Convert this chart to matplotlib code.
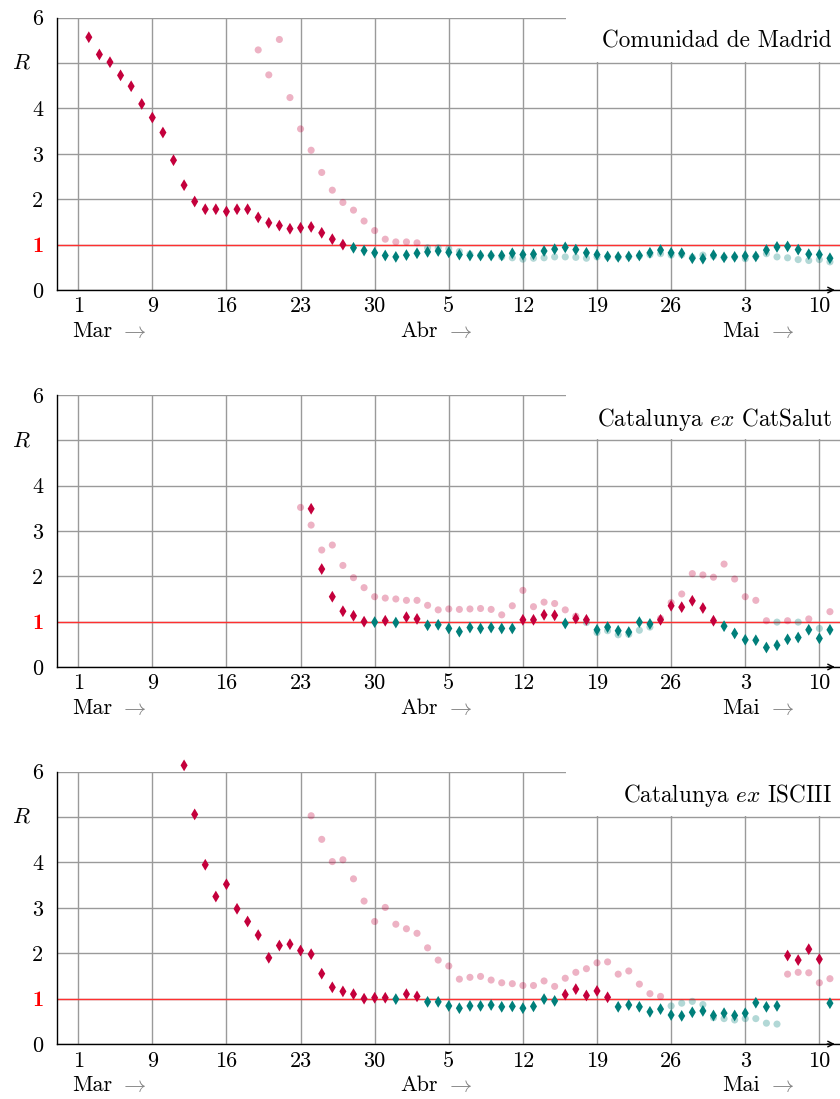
import numpy as np
import matplotlib.pyplot as plt
from matplotlib.patches import Rectangle
from matplotlib.transforms import blended_transform_factory

plt.rcParams['font.family'] = 'cmr10'
plt.rcParams['mathtext.fontset'] = 'cm'
plt.rcParams['axes.unicode_minus'] = False

# day index 0 is the first weekly tick ("1 Mar")
tick_days = np.arange(0, 71, 7)
tick_labels = ['1', '9', '16', '23', '30', '5', '12', '19', '26', '3', '10']
months = ['Mar', 'Abr', 'Mai']

titles = ['Comunidad de Madrid', r'Catalunya $ex$ CatSalut', r'Catalunya $ex$ ISCIII']

# Comunidad de Madrid
mad_est_start = 1
mad_est = [5.57, 5.19, 5.02, 4.73, 4.49, 4.10, 3.80, 3.47, 2.86, 2.31,
           1.95, 1.78, 1.78, 1.73, 1.78, 1.78, 1.60, 1.48, 1.42, 1.35,
           1.37, 1.39, 1.26, 1.12, 1.00, 0.93, 0.87, 0.82, 0.76, 0.73,
           0.77, 0.81, 0.84, 0.86, 0.83, 0.78, 0.76, 0.76, 0.76, 0.76,
           0.81, 0.78, 0.79, 0.86, 0.90, 0.94, 0.89, 0.82, 0.78, 0.74,
           0.73, 0.74, 0.76, 0.82, 0.88, 0.82, 0.81, 0.70, 0.69, 0.77,
           0.72, 0.73, 0.75, 0.74, 0.88, 0.95, 0.96, 0.89, 0.79, 0.78,
           0.70]
mad_raw_start = 17
mad_raw = [5.29, 4.74, 5.52, 4.24, 3.55, 3.08, 2.59, 2.20, 1.93, 1.76,
           1.52, 1.31, 1.12, 1.06, 1.06, 1.04, 0.93, 0.93, 0.91, 0.85,
           0.79, 0.76, 0.76, 0.73, 0.71, 0.68, 0.70, 0.71, 0.73, 0.73,
           0.72, 0.70, 0.73, 0.73, 0.72, 0.73, 0.75, 0.78, 0.80, 0.77,
           0.78, 0.72, 0.77, 0.75, 0.72, 0.73, 0.69, 0.74, 0.80, 0.73,
           0.71, 0.67, 0.65, 0.67, 0.62]

# Catalunya, CatSalut data
cs_est_start = 22
cs_est = [3.49, 2.16, 1.55, 1.23, 1.13, 1.00, 0.99, 1.02, 0.98, 1.10,
          1.06, 0.92, 0.93, 0.85, 0.78, 0.87, 0.85, 0.87, 0.85, 0.85,
          1.04, 1.04, 1.15, 1.14, 0.96, 1.07, 1.04, 0.82, 0.88, 0.80,
          0.77, 0.99, 0.95, 1.04, 1.35, 1.32, 1.46, 1.30, 1.02, 0.90,
          0.74, 0.60, 0.59, 0.43, 0.48, 0.61, 0.65, 0.82, 0.63, 0.82]
cs_raw_start = 21
cs_raw = [3.52, 3.13, 2.58, 2.69, 2.24, 1.97, 1.75, 1.55, 1.52, 1.50,
          1.47, 1.47, 1.36, 1.26, 1.28, 1.27, 1.28, 1.29, 1.27, 1.15,
          1.35, 1.69, 1.33, 1.43, 1.40, 1.26, 1.12, 0.98, 0.76, 0.80,
          0.71, 0.72, 0.81, 0.88, 1.07, 1.42, 1.61, 2.06, 2.03, 1.98,
          2.27, 1.94, 1.55, 1.47, 1.02, 0.99, 1.02, 0.99, 1.06, 0.85,
          1.22]

# Catalunya, ISCIII data
is_est_start = 10
is_est = [6.14, 5.06, 3.95, 3.25, 3.52, 2.98, 2.70, 2.40, 1.90, 2.17,
          2.20, 2.06, 1.98, 1.55, 1.25, 1.16, 1.10, 1.00, 1.02, 1.02,
          0.99, 1.10, 1.05, 0.93, 0.93, 0.84, 0.79, 0.84, 0.84, 0.86,
          0.82, 0.83, 0.79, 0.83, 0.99, 0.95, 1.09, 1.21, 1.07, 1.17,
          1.03, 0.82, 0.86, 0.82, 0.71, 0.77, 0.64, 0.62, 0.70, 0.73,
          0.63, 0.68, 0.63, 0.68, 0.91, 0.82, 0.84, 1.95, 1.85, 2.09,
          1.87, 0.90]
is_raw_start = 22
is_raw = [5.03, 4.51, 4.02, 4.06, 3.64, 3.15, 2.70, 3.01, 2.64, 2.54,
          2.44, 2.12, 1.85, 1.72, 1.43, 1.47, 1.49, 1.41, 1.35, 1.33,
          1.29, 1.29, 1.39, 1.27, 1.45, 1.58, 1.66, 1.79, 1.81, 1.54,
          1.61, 1.32, 1.11, 1.05, 0.84, 0.90, 0.94, 0.87, 0.58, 0.56,
          0.53, 0.56, 0.56, 0.46, 0.44, 1.54, 1.58, 1.57, 1.35, 1.44]

UP = '#c4003c'
DOWN = '#007f7a'
GRID = '#9a9a9a'
FS = 16


def colours(vals, alpha=1.0):
    out = []
    for v in vals:
        c = UP if v >= 1 else DOWN
        out.append(plt.matplotlib.colors.to_rgba(c, alpha))
    return out


def panel(ax, title, raw_start, raw, est_start, est):
    xr = np.arange(raw_start, raw_start + len(raw))
    xe = np.arange(est_start, est_start + len(est))

    ax.set_xlim(-2, 71.95)
    ax.set_ylim(0, 6)
    ax.set_axisbelow(True)
    ax.grid(True, color=GRID, lw=1.0)
    ax.axhline(1, color='#ff3030', lw=1.0, zorder=1.5)

    for s in ['top', 'right']:
        ax.spines[s].set_visible(False)
    ax.spines['left'].set_linewidth(1.0)
    ax.spines['bottom'].set_linewidth(1.0)
    ax.annotate('', xy=(0.997, 0), xycoords='axes fraction',
                xytext=(0.98, 0),
                arrowprops=dict(arrowstyle='->', color='black', lw=1.0,
                                mutation_scale=10))

    ax.set_xticks(tick_days)
    ax.set_xticklabels(tick_labels, fontsize=FS)
    ax.set_yticks(range(7))
    ax.set_yticklabels(['0', '1', '2', '3', '4', '', '6'], fontsize=FS)
    one = ax.get_yticklabels()[1]
    one.set_color('red')
    one.set_fontfamily('cmb10')
    ax.tick_params(axis='x', length=0, pad=5)
    ax.tick_params(axis='y', length=0, pad=10)

    trans = blended_transform_factory(ax.transAxes, ax.transData)
    ax.text(-0.046, 5, '$R$', transform=trans, ha='center', va='center',
            fontsize=FS)

    mtrans = blended_transform_factory(ax.transData, ax.transAxes)
    for name, xm in zip(months, [-0.6, 30.4, 60.8]):
        t = ax.text(xm, -0.151, name, transform=mtrans, ha='left',
                    va='center', fontsize=FS)
        ax.annotate(r'$\rightarrow$', xy=(1, 0.5), xycoords=t,
                    xytext=(6, -1), textcoords='offset points',
                    ha='left', va='center', fontsize=FS, color='#808080')

    # white box holding the panel name
    ax.add_patch(Rectangle((46.07, 5.03), 30, 1.3, facecolor='white',
                           edgecolor='none', zorder=1, clip_on=False))
    ax.text(71.2, 5.47, title, ha='right', va='center', fontsize=16.7,
            zorder=4)

    ax.scatter(xr, raw, s=26, marker='o', c=colours(raw, 0.3),
               linewidths=0, zorder=2, clip_on=False)
    ax.scatter(xe, est, s=36, marker='d', c=colours(est),
               linewidths=0, zorder=3, clip_on=False)


fig = plt.figure(figsize=(8.4, 10.99), dpi=100)
boxes = [(0.7361, 0.2478), (0.3931, 0.2475), (0.0500, 0.2478)]
series = [(mad_raw_start, mad_raw, mad_est_start, mad_est),
          (cs_raw_start, cs_raw, cs_est_start, cs_est),
          (is_raw_start, is_raw, is_est_start, is_est)]

for (b, h), title, s in zip(boxes, titles, series):
    ax = fig.add_axes([0.0679, b, 1 - 0.0679, h])
    panel(ax, title, *s)

fig.savefig('out.png', dpi=100)
